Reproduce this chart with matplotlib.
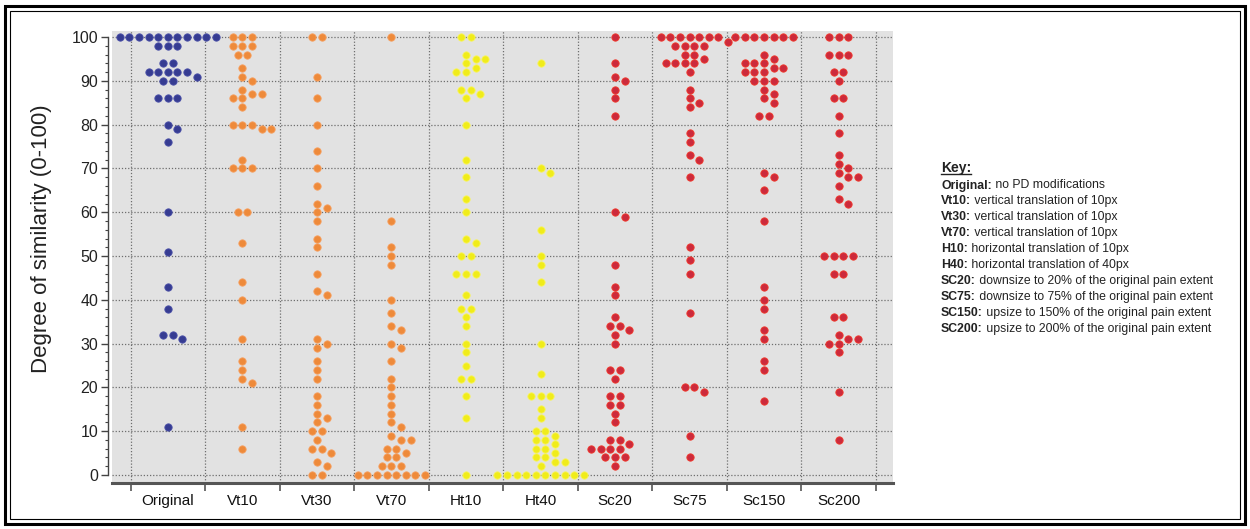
import matplotlib
matplotlib.use("Agg")
import matplotlib.pyplot as plt
from matplotlib.patches import Rectangle
from matplotlib.lines import Line2D
from matplotlib.ticker import MultipleLocator
import numpy as np

plt.rcParams['font.family'] = ['Liberation Sans', 'DejaVu Sans']

# data (38 values per group)
groups = ['Original', 'Vt10', 'Vt30', 'Vt70', 'Ht10', 'Ht40', 'Sc20', 'Sc75', 'Sc150', 'Sc200']

original = [100, 100, 100, 100, 100, 100, 100, 100, 100, 100, 100, 98, 98, 98, 94, 94,
            92, 92, 92, 92, 92, 91, 90, 90, 86, 86, 86, 80, 79, 76, 60, 51, 43, 38,
            32, 32, 31, 11]
vt10 = [100, 100, 100, 98, 98, 98, 96, 96, 93, 91, 90, 88, 87, 87, 86, 86, 84, 80, 80,
        80, 79, 79, 72, 70, 70, 70, 60, 60, 53, 44, 40, 31, 26, 24, 22, 21, 11, 6]
vt30 = [100, 100, 91, 86, 80, 74, 70, 66, 62, 61, 60, 58, 54, 52, 46, 42, 41, 31, 30,
        29, 26, 24, 22, 18, 16, 14, 13, 12, 10, 10, 8, 6, 6, 5, 3, 2, 0, 0]
vt70 = [100, 58, 52, 50, 48, 40, 37, 34, 33, 30, 29, 26, 22, 20, 18, 16, 14, 12, 11,
        9, 8, 8, 6, 6, 5, 4, 4, 2, 2, 2, 0, 0, 0, 0, 0, 0, 0, 0]
ht10 = [100, 100, 96, 95, 95, 94, 93, 92, 92, 88, 88, 87, 86, 80, 72, 68, 63, 60, 54,
        53, 50, 50, 46, 46, 46, 41, 38, 38, 36, 34, 30, 28, 25, 22, 22, 18, 13, 0]
ht40 = [94, 70, 69, 56, 50, 48, 44, 30, 23, 18, 18, 18, 15, 13, 10, 10, 9, 8, 8, 7,
        6, 6, 5, 4, 4, 3, 3, 2, 0, 0, 0, 0, 0, 0, 0, 0, 0, 0]
sc20 = [100, 94, 91, 90, 88, 86, 82, 60, 59, 48, 43, 41, 36, 34, 34, 33, 32, 30, 24,
        24, 22, 18, 18, 16, 16, 14, 12, 8, 8, 7, 6, 6, 6, 6, 4, 4, 4, 2]
sc75 = [100, 100, 100, 100, 100, 100, 100, 99, 98, 98, 98, 98, 96, 96, 95, 94, 94, 94,
        94, 92, 88, 86, 85, 84, 78, 76, 73, 72, 68, 52, 49, 46, 37, 20, 20, 19, 9, 4]
sc150 = [100, 100, 100, 100, 100, 100, 100, 96, 95, 94, 94, 94, 93, 93, 92, 92, 92, 90,
         90, 90, 88, 87, 86, 85, 82, 82, 69, 68, 65, 58, 43, 40, 38, 33, 31, 26, 24, 17]
sc200 = [100, 100, 100, 96, 96, 96, 92, 92, 90, 86, 86, 82, 78, 73, 71, 70, 69, 68, 68,
         66, 63, 62, 50, 50, 50, 50, 46, 46, 36, 36, 32, 31, 31, 30, 30, 28, 19, 8]

series = [original, vt10, vt30, vt70, ht10, ht40, sc20, sc75, sc150, sc200]

blue = ('#363c92', '#4a50a8')
orange = ('#ee8a3a', '#f6a060')
yellow = ('#f0ec1a', '#f8f460')
red = ('#cc2a3c', '#f2382a')
colors = [blue, orange, orange, orange, yellow, yellow, red, red, red, red]

key_lines = [
    ('Original:', ' no PD modifications'),
    ('Vt10:', ' vertical translation of 10px'),
    ('Vt30:', ' vertical translation of 10px'),
    ('Vt70:', ' vertical translation of 10px'),
    ('H10:', ' horizontal translation of 10px'),
    ('H40:', ' horizontal translation of 40px'),
    ('SC20:', ' downsize to 20% of the original pain extent'),
    ('SC75:', ' downsize to 75% of the original pain extent'),
    ('SC150:', ' upsize to 150% of the original pain extent'),
    ('SC200:', ' upsize to 200% of the original pain extent'),
]

W, H = 1250, 529
fig = plt.figure(figsize=(W / 100, H / 100), dpi=100)
ax = fig.add_axes([112 / W, 46 / H, 781 / W, 452 / H])
ax.set_facecolor('#e2e2e2')
ax.set_xlim(-0.75, 9.73)
ax.set_ylim(-1.83, 101.4)


def swarm(vals, px_x, px_y, gap=9.6, dmin=6.6):
    # rows of equal values are centred, then shifted sideways until no overlap
    uniq, counts = np.unique(np.asarray(vals), return_counts=True)
    shifts = [0.0]
    for k in range(1, 60):
        shifts += [k * gap / 2, -k * gap / 2]
    px, py = [], []
    for v, n in sorted(zip(uniq, counts), key=lambda t: -t[0]):
        base = (np.arange(n) - (n - 1) / 2) * gap
        for s in shifts:
            xs = base + s
            ok = True
            for qx, qv in zip(px, py):
                dy = (v - qv) * px_y
                if abs(dy) >= dmin:
                    continue
                if np.any(np.hypot(xs - qx, dy) < dmin):
                    ok = False
                    break
            if ok:
                break
        px.extend(xs)
        py.extend([v] * n)
    return np.array(px) / px_x, np.array(py)


t0 = ax.transData.transform((0, 0))
t1 = ax.transData.transform((1, 1))
px_x = t1[0] - t0[0]
px_y = t1[1] - t0[1]

for i, vals in enumerate(series):
    dx, yv = swarm(vals, px_x, px_y)
    face, edge = colors[i]
    ax.scatter(i + dx, yv, s=28, color=face, edgecolors=edge, linewidths=0.6,
               zorder=3, clip_on=False)

# axes styling
for sp in ['top', 'right']:
    ax.spines[sp].set_visible(False)
ax.spines['left'].set_position(('outward', 3))
ax.spines['left'].set_bounds(0, 100)
ax.spines['left'].set_color('#444444')
ax.spines['left'].set_linewidth(1.0)
ax.spines['bottom'].set_color('#555555')
ax.spines['bottom'].set_linewidth(2.2)

ax.yaxis.set_major_locator(MultipleLocator(10))
ax.yaxis.set_minor_locator(MultipleLocator(2))
ax.tick_params(axis='y', which='major', length=5, width=1.0, color='#444444',
               labelsize=11.5, labelcolor='#222222', pad=2)
ax.tick_params(axis='y', which='minor', length=2.5, width=0.8, color='#444444')

bounds = np.arange(len(groups) + 1) - 0.5
ax.set_xticks(bounds)
ax.set_xticklabels([])
ax.set_xticks(np.arange(len(groups)), minor=True)
ax.set_xticklabels(groups, minor=True)
ax.tick_params(axis='x', which='major', length=5.5, width=1.2, color='#555555')
ax.tick_params(axis='x', which='minor', length=0, labelsize=11, labelcolor='#111111', pad=8)

ax.grid(True, which='major', color='#6e6e6e', linestyle=(0, (1, 1.5)), linewidth=0.9)
ax.set_axisbelow(True)

ax.set_ylabel('Degree of similarity (0-100)', fontsize=16, color='#222222')
ax.yaxis.set_label_coords(-0.077, 0.54)

# key
kx = 941 / W
key = fig.text(kx, 1 - 168 / H, 'Key:', fontsize=10, fontweight='bold', va='center',
               color='#222222')
for j, (head, rest) in enumerate(key_lines):
    y = 1 - (185.5 + 15.9 * j) / H
    t = fig.text(kx, y, head, fontsize=8.8, fontweight='bold', va='center', color='#222222')
    ax.annotate(rest, xy=(1, 0), xycoords=t, va='bottom', ha='left', fontsize=8.8,
                color='#222222', annotation_clip=False)

fig.canvas.draw()
bb = key.get_window_extent().transformed(fig.transFigure.inverted())
fig.add_artist(Line2D([bb.x0, bb.x1], [bb.y0 + 0.5 / H, bb.y0 + 0.5 / H],
                      transform=fig.transFigure, color='#222222', linewidth=1.0))

# double frame around the figure
fig.add_artist(Rectangle((5 / W, 5 / H), 1240 / W, 518 / H, transform=fig.transFigure,
                         fill=False, edgecolor='black', linewidth=2.2))
fig.add_artist(Rectangle((10 / W, 10 / H), 1230 / W, 508 / H, transform=fig.transFigure,
                         fill=False, edgecolor='black', linewidth=0.8))

fig.savefig('out.png', dpi=100)
